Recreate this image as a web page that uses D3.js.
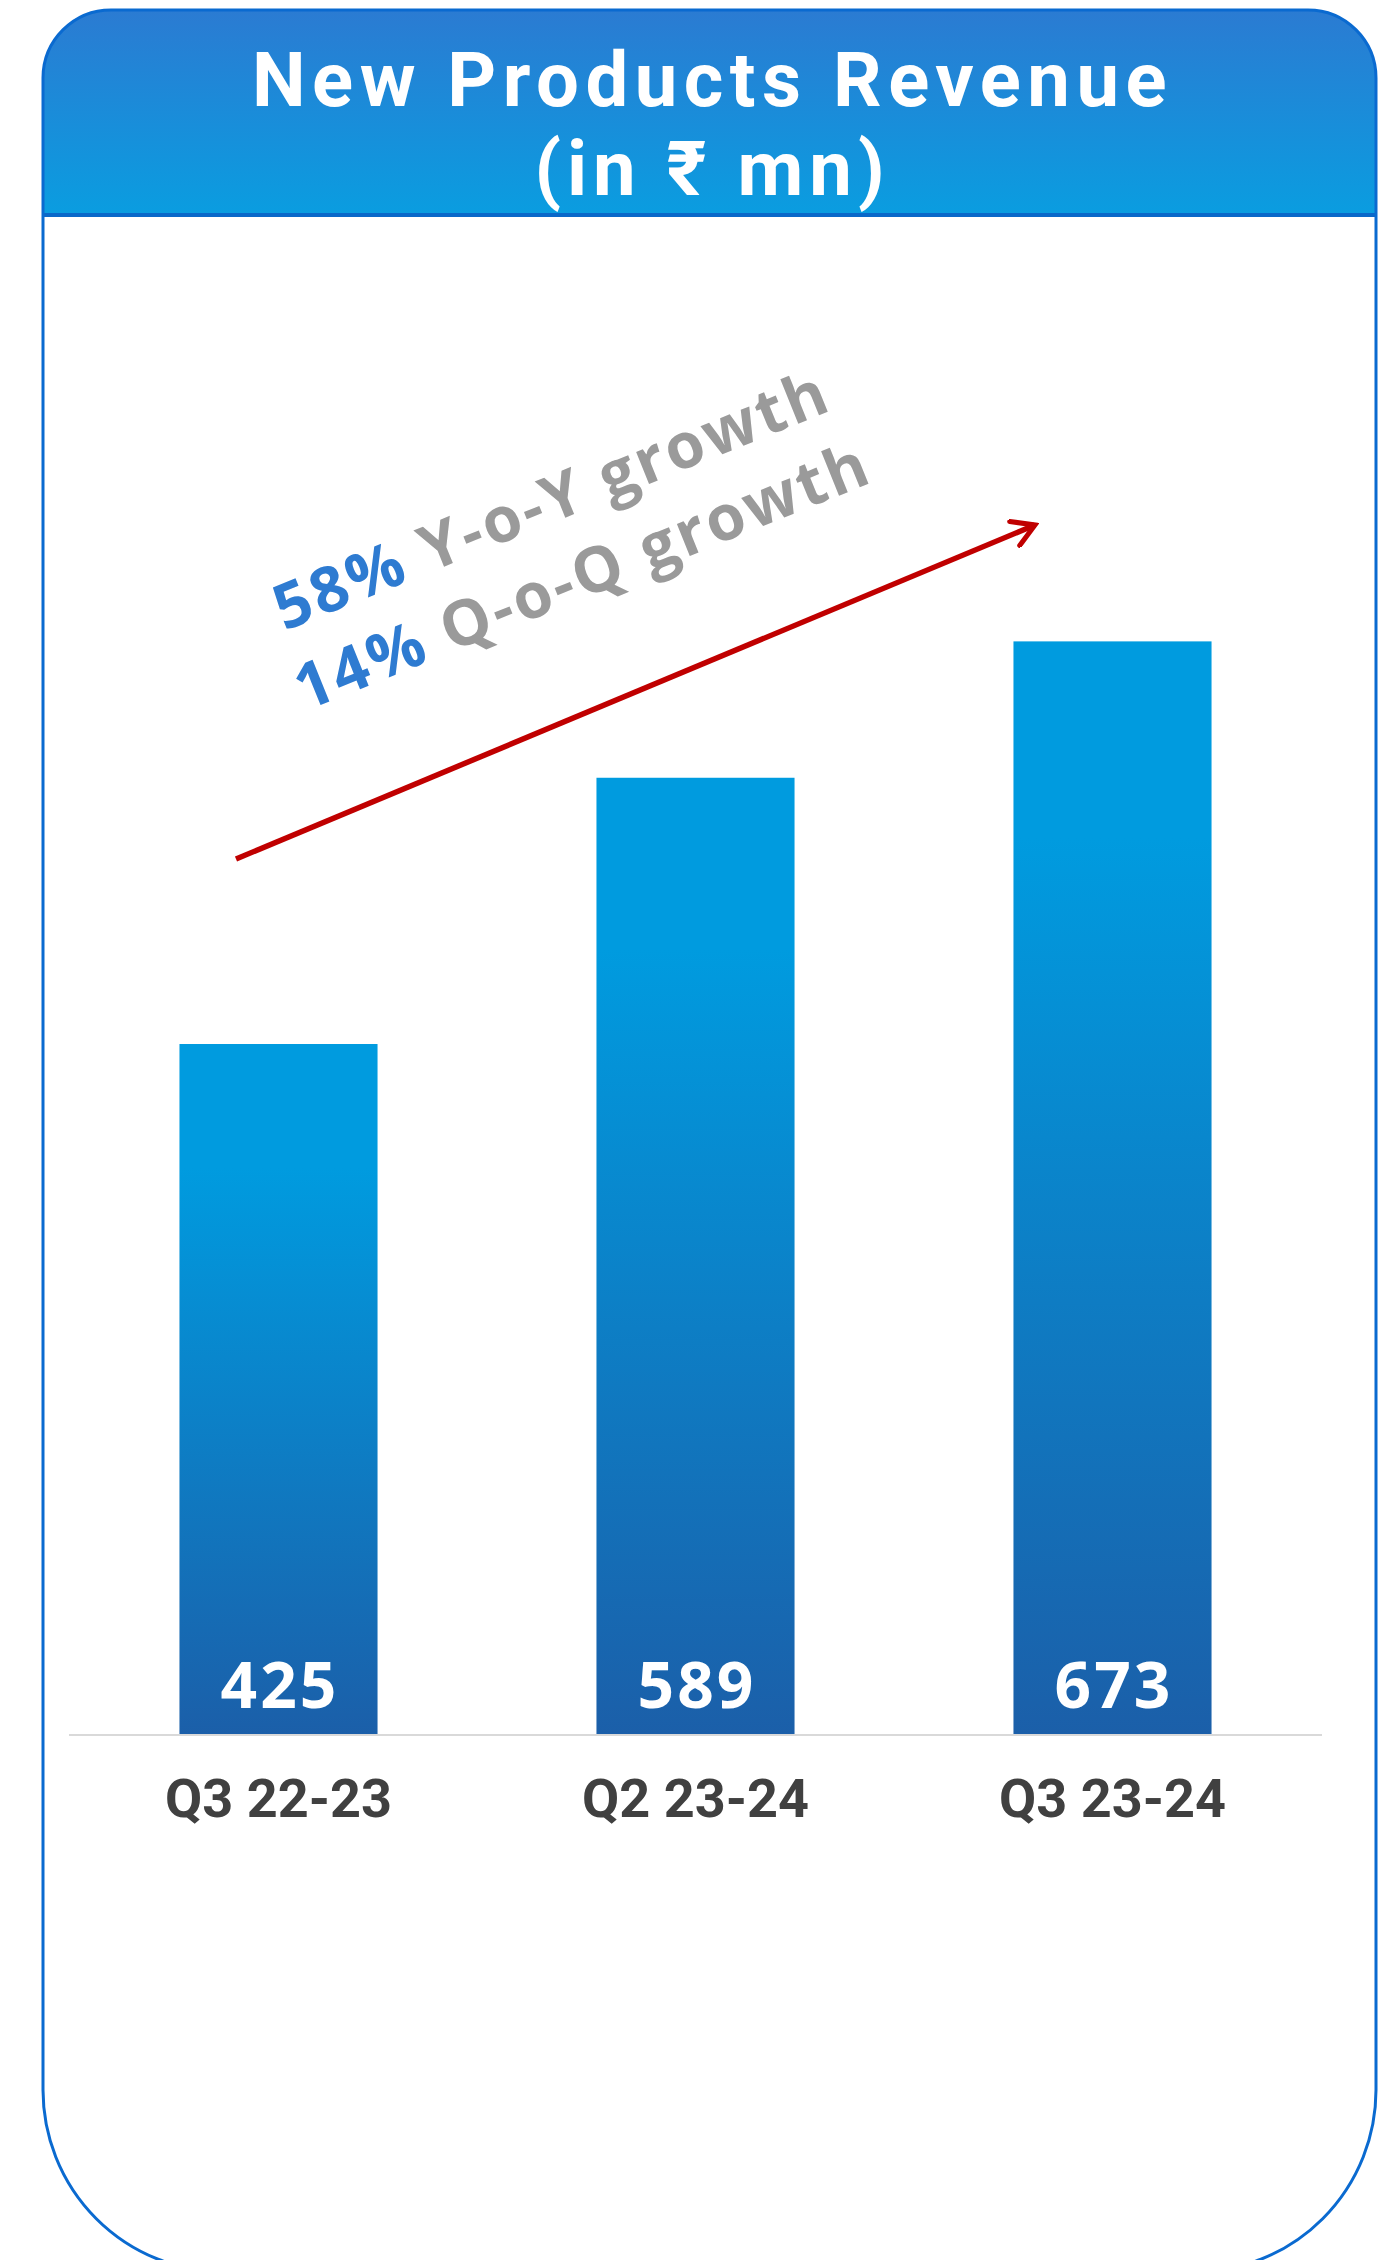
<!DOCTYPE html>
<html>
<head>
<meta charset="utf-8">
<script src="https://cdn.jsdelivr.net/npm/d3@7"></script>
<style>
  html, body { margin: 0; padding: 0; background: #ffffff; }
  svg { display: block; }
</style>
</head>
<body>
<svg id="chart" width="1394" height="2260"></svg>
<script>
// ---- data ----
const titleLines = ["New Products Revenue", "(in ₹ mn)"];
const categories = ["Q3 22-23", "Q2 23-24", "Q3 23-24"];
const values = [425, 589, 673];
const growthPct = ["58%", "14%"];
const growthText = [" Y-o-Y growth", " Q-o-Q growth"];

// ---- layout ----
const W = 1394, H = 2260;
const card = { left: 43, right: 1376, top: 10, bottom: 2272, rTop: 68, rBottom: 182, headerBottom: 215 };
const plot = { left: 70, right: 1321, baseline: 1734 };

const svg = d3.select("#chart");
const defs = svg.append("defs");

// header gradient
const hg = defs.append("linearGradient").attr("id", "hdrGrad")
  .attr("x1", 0).attr("y1", 0).attr("x2", 0).attr("y2", 1);
hg.append("stop").attr("offset", "0%").attr("stop-color", "#2b7bd2");
hg.append("stop").attr("offset", "100%").attr("stop-color", "#0a9de0");

// bar gradient
const bg = defs.append("linearGradient").attr("id", "barGrad")
  .attr("x1", 0).attr("y1", 0).attr("x2", 0).attr("y2", 1);
bg.append("stop").attr("offset", "0%").attr("stop-color", "#009bdf");
bg.append("stop").attr("offset", "18%").attr("stop-color", "#009bdf");
bg.append("stop").attr("offset", "100%").attr("stop-color", "#1b5fa9");

// card outline path
function cardPath() {
  const p = d3.path();
  const c = card;
  p.moveTo(c.left + c.rTop, c.top);
  p.lineTo(c.right - c.rTop, c.top);
  p.arcTo(c.right, c.top, c.right, c.top + c.rTop, c.rTop);
  p.lineTo(c.right, c.bottom - c.rBottom);
  p.arcTo(c.right, c.bottom, c.right - c.rBottom, c.bottom, c.rBottom);
  p.lineTo(c.left + c.rBottom, c.bottom);
  p.arcTo(c.left, c.bottom, c.left, c.bottom - c.rBottom, c.rBottom);
  p.lineTo(c.left, c.top + c.rTop);
  p.arcTo(c.left, c.top, c.left + c.rTop, c.top, c.rTop);
  p.closePath();
  return p.toString();
}

defs.append("clipPath").attr("id", "cardClip").append("path").attr("d", cardPath());

svg.append("path").attr("d", cardPath()).attr("fill", "#ffffff");

// header
svg.append("rect")
  .attr("x", card.left).attr("y", card.top)
  .attr("width", card.right - card.left).attr("height", card.headerBottom - card.top)
  .attr("fill", "url(#hdrGrad)")
  .attr("clip-path", "url(#cardClip)");
svg.append("line")
  .attr("x1", card.left).attr("x2", card.right)
  .attr("y1", card.headerBottom).attr("y2", card.headerBottom)
  .attr("stroke", "#0a68c9").attr("stroke-width", 4);

svg.append("path").attr("d", cardPath())
  .attr("fill", "none").attr("stroke", "#0a6ad0").attr("stroke-width", 3);

// title
svg.append("g").selectAll("text").data(titleLines).join("text")
  .attr("text-anchor", "middle")
  .attr("font-family", "Roboto, 'Open Sans', sans-serif")
  .attr("font-weight", 700)
  .attr("font-size", 76)
  .attr("letter-spacing", (d, i) => (i === 0 ? 6.5 : 6))
  .attr("fill", "#ffffff")
  .attr("x", (card.left + card.right) / 2 + 3)
  .attr("y", (d, i) => 106 + i * 89)
  .text(d => d);

// scales
const x = d3.scaleBand().domain(categories).range([plot.left, plot.right])
  .paddingInner(0.525).paddingOuter(0.2625);
const y = d3.scaleLinear().domain([0, 800]).range([plot.baseline, plot.baseline - 800 * 1.6235]);

// baseline
svg.append("line")
  .attr("x1", plot.left - 1).attr("x2", plot.right + 1)
  .attr("y1", plot.baseline + 1).attr("y2", plot.baseline + 1)
  .attr("stroke", "#d9d9d9").attr("stroke-width", 2);

// bars
svg.append("g").selectAll("rect").data(values).join("rect")
  .attr("x", (d, i) => x(categories[i]))
  .attr("y", d => y(d))
  .attr("width", x.bandwidth())
  .attr("height", d => y(0) - y(d))
  .attr("fill", "url(#barGrad)");

// value labels
svg.append("g").selectAll("text").data(values).join("text")
  .attr("x", (d, i) => x(categories[i]) + x.bandwidth() / 2 + 1.5)
  .attr("y", y(0) - 26)
  .attr("text-anchor", "middle")
  .attr("font-family", "'Open Sans', 'Noto Sans', sans-serif")
  .attr("font-weight", 700)
  .attr("font-size", 64)
  .attr("letter-spacing", 3)
  .attr("fill", "#ffffff")
  .text(d => d);

// category axis (no domain line / ticks)
const xAxis = svg.append("g")
  .attr("transform", `translate(0,${plot.baseline})`)
  .call(d3.axisBottom(x).tickSize(0).tickPadding(0));
xAxis.select(".domain").remove();
xAxis.selectAll("text")
  .attr("dy", null)
  .attr("y", 83)
  .attr("font-family", "Roboto, 'Noto Sans', sans-serif")
  .attr("font-weight", 700)
  .attr("font-size", 54)
  .attr("fill", "#404040");

// growth arrow
defs.append("marker").attr("id", "arrowHead")
  .attr("viewBox", "-30 -15 34 30")
  .attr("refX", 0).attr("refY", 0)
  .attr("markerWidth", 34).attr("markerHeight", 30)
  .attr("markerUnits", "userSpaceOnUse")
  .attr("orient", "auto")
  .append("path")
  .attr("d", "M-22,-13 L0,0 L-22,13")
  .attr("fill", "none").attr("stroke", "#c00000").attr("stroke-width", 5)
  .attr("stroke-linecap", "round").attr("stroke-linejoin", "miter");

svg.append("line")
  .attr("x1", 236).attr("y1", 859)
  .attr("x2", 1035).attr("y2", 525)
  .attr("stroke", "#c00000").attr("stroke-width", 5.5)
  .attr("marker-end", "url(#arrowHead)");

// growth annotation text
const ann = svg.append("g").attr("transform", "translate(575,558) rotate(-22)");
const annText = ann.selectAll("text").data(growthPct).join("text")
  .attr("x", 0)
  .attr("y", (d, i) => (i === 0 ? -41 : 41))
  .attr("text-anchor", "middle")
  .attr("font-family", "'Open Sans', 'Noto Sans', sans-serif")
  .attr("font-weight", 700)
  .attr("font-size", 63)
  .attr("letter-spacing", 3);
annText.append("tspan").attr("fill", "#2e7bd1").text(d => d);
annText.append("tspan").attr("fill", "#9a9a9a").text((d, i) => growthText[i]);
</script>
</body>
</html>
